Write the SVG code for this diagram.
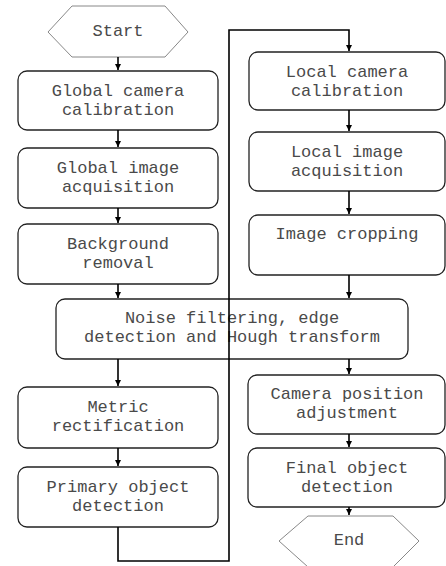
<svg xmlns="http://www.w3.org/2000/svg" width="446" height="566" viewBox="0 0 446 566">
<style>
.box{fill:#fff;stroke:#222;stroke-width:1.3}
.hex{fill:#fff;stroke:#888;stroke-width:1}
.t{font-family:"Liberation Mono","Courier New",monospace;font-size:17px;fill:#4a4a4a;text-anchor:middle}
.c{fill:none;stroke:#000;stroke-width:1.6}
</style>
<defs>
<marker id="ah" markerWidth="8" markerHeight="8" refX="6" refY="3" orient="auto" markerUnits="userSpaceOnUse">
<path d="M0,0 L6,3 L0,6 Z" fill="#000"/>
</marker>
</defs>
<rect width="446" height="566" fill="#fff"/>
<g id="start"><polygon class="hex" points="48,32 72,6 165,6 188,32 165,57 72,57"/><text class="t" x="118" y="36">Start</text></g>
<g id="global-cal"><rect class="box" x="18" y="71" width="200" height="59" rx="9"/><text class="t" x="118" y="96">Global camera</text><text class="t" x="118" y="115">calibration</text></g>
<g id="global-img"><rect class="box" x="18" y="148" width="200" height="60" rx="9"/><text class="t" x="118" y="173">Global image</text><text class="t" x="118" y="192">acquisition</text></g>
<g id="background"><rect class="box" x="18" y="224" width="200" height="60" rx="9"/><text class="t" x="118" y="249">Background</text><text class="t" x="118" y="268">removal</text></g>
<g id="noise"><rect class="box" x="56" y="299" width="352" height="60" rx="9"/><text class="t" x="232" y="323">Noise filtering, edge</text><text class="t" x="232" y="342">detection and Hough transform</text></g>
<g id="metric"><rect class="box" x="18" y="387" width="200" height="61" rx="9"/><text class="t" x="118" y="412">Metric</text><text class="t" x="118" y="431">rectification</text></g>
<g id="primary"><rect class="box" x="18" y="467" width="200" height="60" rx="9"/><text class="t" x="118" y="492">Primary object</text><text class="t" x="118" y="511">detection</text></g>
<g id="local-cal"><rect class="box" x="249" y="52" width="196" height="58" rx="9"/><text class="t" x="347" y="77">Local camera</text><text class="t" x="347" y="96">calibration</text></g>
<g id="local-img"><rect class="box" x="249" y="132" width="196" height="59" rx="9"/><text class="t" x="347" y="157">Local image</text><text class="t" x="347" y="176">acquisition</text></g>
<g id="cropping"><rect class="box" x="249" y="215" width="196" height="60" rx="9"/><text class="t" x="347" y="239">Image cropping</text></g>
<g id="cam-pos"><rect class="box" x="248" y="375" width="197" height="59" rx="9"/><text class="t" x="347" y="399">Camera position</text><text class="t" x="347" y="418">adjustment</text></g>
<g id="final"><rect class="box" x="248" y="448" width="197" height="59" rx="9"/><text class="t" x="347" y="473">Final object</text><text class="t" x="347" y="492">detection</text></g>
<g id="end"><polygon class="hex" points="279,541 308,516 393,516 419,541 393,567 308,567"/><text class="t" x="349" y="545">End</text></g>
<g id="connectors">
<line class="c" x1="118" y1="57" x2="118" y2="70" marker-end="url(#ah)"/>
<line class="c" x1="118" y1="130" x2="118" y2="147" marker-end="url(#ah)"/>
<line class="c" x1="118" y1="208" x2="118" y2="223" marker-end="url(#ah)"/>
<line class="c" x1="118" y1="284" x2="118" y2="298" marker-end="url(#ah)"/>
<line class="c" x1="118" y1="359" x2="118" y2="386" marker-end="url(#ah)"/>
<line class="c" x1="118" y1="448" x2="118" y2="466" marker-end="url(#ah)"/>
<polyline class="c" points="118,527 118,561 229,561 229,30 349,30 349,51" marker-end="url(#ah)"/>
<line class="c" x1="349" y1="110" x2="349" y2="131" marker-end="url(#ah)"/>
<line class="c" x1="349" y1="191" x2="349" y2="214" marker-end="url(#ah)"/>
<line class="c" x1="349" y1="275" x2="349" y2="298" marker-end="url(#ah)"/>
<line class="c" x1="349" y1="359" x2="349" y2="374" marker-end="url(#ah)"/>
<line class="c" x1="349" y1="434" x2="349" y2="447" marker-end="url(#ah)"/>
<line class="c" x1="349" y1="507" x2="349" y2="515" marker-end="url(#ah)"/>
</g>
</svg>
